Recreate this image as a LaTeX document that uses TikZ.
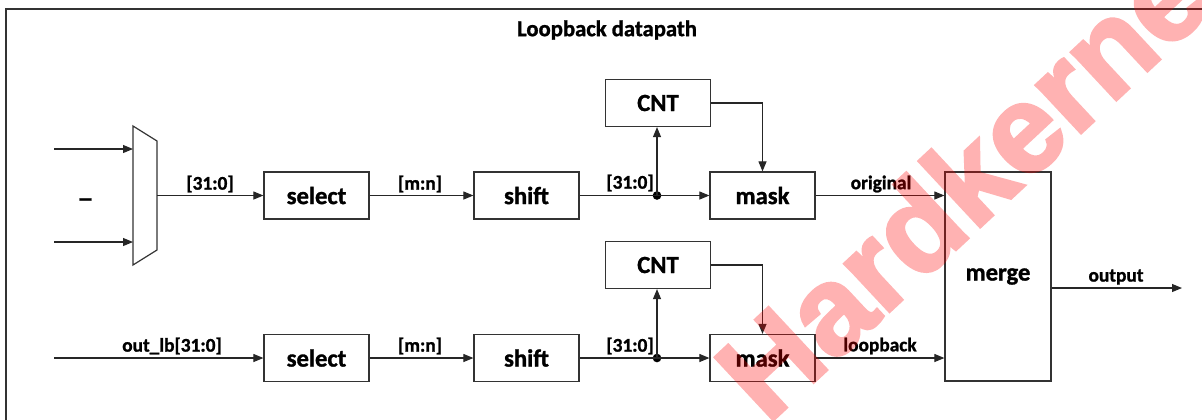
\documentclass[tikz,border=0pt]{standalone}
\usepackage{fontspec}
\setmainfont{Carlito}[BoldFeatures={FakeBold=1.2}]
\newfontfamily\wmfont{Liberation Sans}[BoldFeatures={FakeBold=2.5}]
\usetikzlibrary{arrows.meta,calc}
\begin{document}
\begin{tikzpicture}[x=0.75pt,y=-0.75pt,
  line/.style={draw=black!85,line width=0.8pt},
  arr/.style={line,-{Triangle[length=7.5pt,width=6pt]}},
  blk/.style={draw=black!80,line width=0.9pt,minimum width=78.75pt,minimum height=35.25pt,
    inner sep=0pt,font=\fontsize{18.5}{21}\selectfont\bfseries},
  lbl/.style={inner sep=0pt,font=\fontsize{14.5}{17}\selectfont\bfseries},
  dotnode/.style={circle,fill=black,inner sep=0pt,minimum size=6.5pt}]
\clip (0,0) rectangle (1202,419);
\useasboundingbox (0,0) rectangle (1202,419);
\fill[white] (0,0) rectangle (1202,419);
% frame
\draw[draw=black!80,line width=0.9pt] (6,9) rectangle (1215,440);
\node[inner sep=0pt,font=\fontsize{17}{20}\selectfont\bfseries] (title) at (607,30) {Loopback datapath};

% mux
\draw[draw=black!80,line width=0.9pt] (133,126) -- (157,141) -- (157,250) -- (133,265) -- cycle;
\coordinate (muxin1) at (133,149);
\coordinate (muxin2) at (133,242);
\coordinate (muxout) at (157,195.5);
\coordinate (src1) at (54,149);
\coordinate (src2) at (54,242);
\coordinate (src3) at (54,358);
\node[anchor=base,inner sep=0pt,font=\fontsize{18}{20}\selectfont\bfseries] (sel) at (85.5,197) {\_};

% boxes
\node[blk] (select1) at (316.5,195.5) {select};
\node[blk] (select2) at (316.5,358) {select};
\node[blk] (shift1) at (526.5,195.5) {shift};
\node[blk] (shift2) at (526.5,358) {shift};
\node[blk] (cnt1) at (658,103) {CNT};
\node[blk] (cnt2) at (658,265) {CNT};
\node[blk] (mask1) at (762.5,195.5) {mask};
\node[blk] (mask2) at (762.5,358) {mask};
\node[blk,minimum width=79.5pt,minimum height=156.75pt] (merge) at (998,276.5) {merge};
\node[dotnode] (dot1) at (657,195.5) {};
\node[dotnode] (dot2) at (657,358) {};
\coordinate (outend) at (1182,288);

% connectors
\draw[arr] (src1) -- (muxin1);
\draw[arr] (src2) -- (muxin2);
\draw[arr] (muxout) -- (select1.west);
\draw[arr] (src3) -- (select2.west);
\draw[arr] (select1.east) -- (shift1.west);
\draw[arr] (select2.east) -- (shift2.west);
\draw[line] (shift1.east) -- (dot1.center);
\draw[line] (shift2.east) -- (dot2.center);
\draw[arr] (dot1.center) -- (mask1.west);
\draw[arr] (dot2.center) -- (mask2.west);
\draw[arr] (dot1.center) -- (dot1 |- cnt1.south);
\draw[arr] (dot2.center) -- (dot2 |- cnt2.south);
\draw[arr] (cnt1.east) -| (mask1.north);
\draw[arr] (cnt2.east) -| (mask2.north);
\draw[arr] (mask1.east) -- (merge.west |- mask1.east);
\draw[arr] (mask2.east) -- (merge.west |- mask2.east);
\draw[arr] (merge.east |- outend) -- (outend);

% labels
\node[lbl] (l1) at (210,184) {[31:0]};
\node[lbl] (l2) at (420,184) {[m:n]};
\node[lbl] (l3) at (630,183) {[31:0]};
\node[lbl] (l4) at (881,184) {original};
\node[lbl] (l5) at (172,346) {out\_lb[31:0]};
\node[lbl] (l6) at (420,346) {[m:n]};
\node[lbl] (l7) at (630,346) {[31:0]};
\node[lbl] (l8) at (880,346) {loopback};
\node[lbl] (l9) at (1116,277) {output};

% watermark
\begin{scope}[transparency group,opacity=0.3]
\node[text=red,rotate=43,inner sep=0pt,font=\wmfont\fontsize{93}{100}\selectfont\bfseries] (wm) at (974,172) {Hardkernel};
\end{scope}
\end{tikzpicture}
\end{document}
